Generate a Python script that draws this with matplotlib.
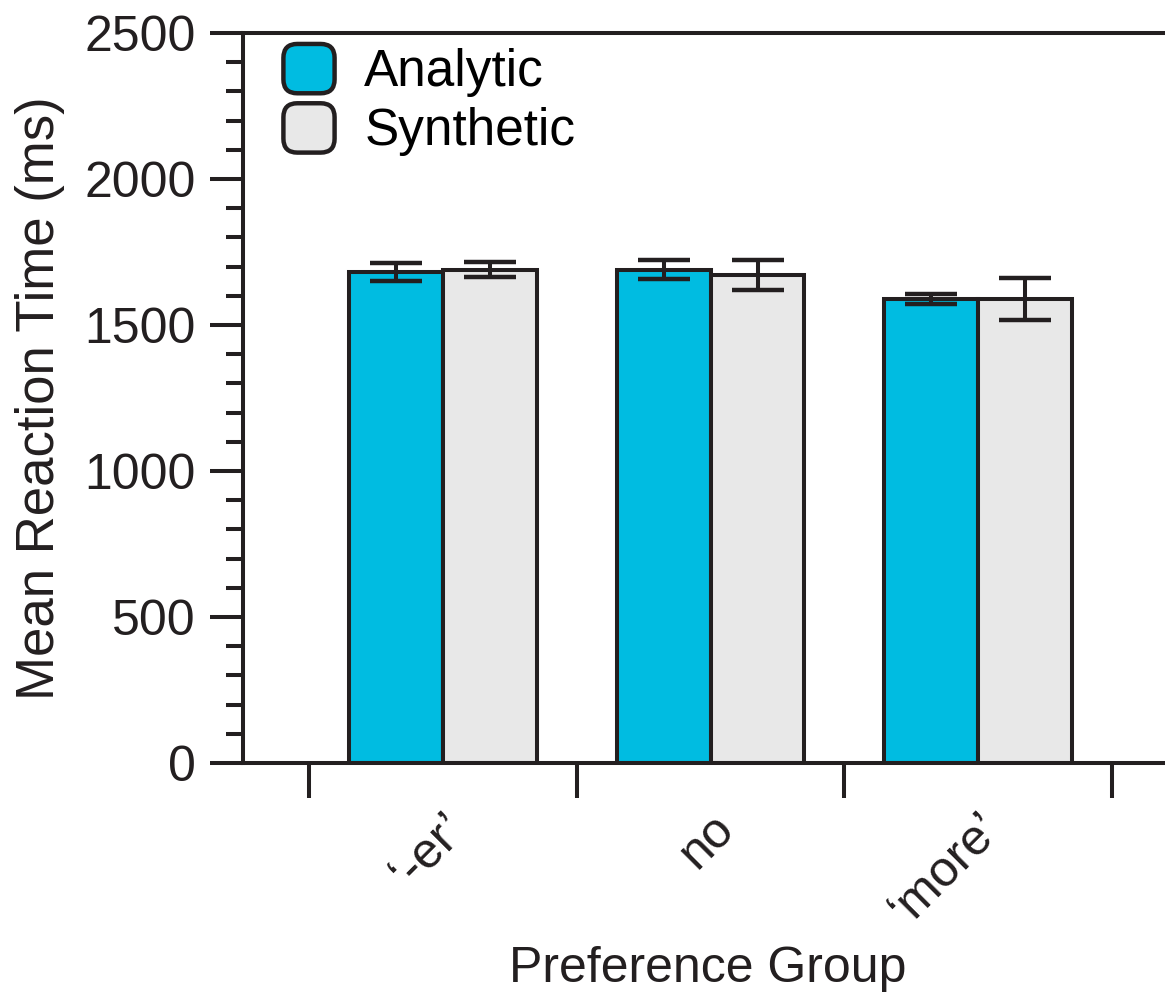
import matplotlib.pyplot as plt
from matplotlib.legend_handler import HandlerPatch
from matplotlib.patches import FancyBboxPatch
from matplotlib.ticker import MultipleLocator, FixedLocator
import numpy as np

plt.rcParams['font.family'] = ['Liberation Sans', 'DejaVu Sans']

groups = ["\u2018-er\u2019", "no", "\u2018more\u2019"]
analytic = [1680, 1690, 1589]
analytic_err = [31, 34, 16]
synthetic = [1690, 1672, 1589]
synthetic_err = [27, 51, 72]

dark = "#231F20"
cyan = "#00BCE1"
grey = "#E8E8E8"


class RoundHandler(HandlerPatch):
    def create_artists(self, legend, orig_handle, xdescent, ydescent,
                       width, height, fontsize, trans):
        p = FancyBboxPatch((-xdescent + 1, -ydescent), width - 2, height,
                           boxstyle="round,pad=0,rounding_size=10",
                           facecolor=orig_handle.get_facecolor(),
                           edgecolor=dark, linewidth=3.2, transform=trans)
        return [p]


fig = plt.figure(figsize=(11.65, 9.94), dpi=100)
ax = fig.add_axes([243 / 1165, 1 - 763 / 994, (1172 - 243) / 1165, (763 - 33) / 994])

x = np.arange(len(groups))
w = 0.351
b1 = ax.bar(x - w / 2, analytic, w, color=cyan, edgecolor=dark, linewidth=2.9,
            label="Analytic", zorder=2)
b2 = ax.bar(x + w / 2, synthetic, w, color=grey, edgecolor=dark, linewidth=2.9,
            label="Synthetic", zorder=2)
ax.errorbar(x - w / 2, analytic, yerr=analytic_err, fmt='none', ecolor=dark,
            elinewidth=2.9, capsize=19, capthick=3.2, zorder=3)
ax.errorbar(x + w / 2, synthetic, yerr=synthetic_err, fmt='none', ecolor=dark,
            elinewidth=2.9, capsize=19, capthick=3.2, zorder=3)

ax.set_xlim(-0.748, 2.725)
ax.set_ylim(0, 2500)

for s in ax.spines.values():
    s.set_linewidth(2.9)
    s.set_color(dark)

ax.yaxis.set_major_locator(MultipleLocator(500))
ax.yaxis.set_minor_locator(MultipleLocator(100))
ax.tick_params(axis='y', which='major', length=24, width=2.9, color=dark,
               labelsize=36, pad=10, labelcolor=dark)
ax.tick_params(axis='y', which='minor', length=12, width=2.9, color=dark)

ax.xaxis.set_major_locator(FixedLocator([-0.5, 0.5, 1.5, 2.5]))
ax.xaxis.set_minor_locator(FixedLocator(x))
ax.set_xticklabels([], minor=False)
ax.set_xticklabels(groups, minor=True, rotation=45, ha='right', va='top',
                   rotation_mode='anchor')
ax.tick_params(axis='x', which='major', length=25, width=2.9, color=dark)
ax.tick_params(axis='x', which='minor', length=0, labelsize=36, pad=30,
               labelcolor=dark)

ax.set_ylabel("Mean Reaction Time (ms)", fontsize=38, labelpad=14, color=dark)
ax.set_xlabel("Preference Group", fontsize=36, labelpad=9, color=dark)

h1, h2 = b1.patches[0], b2.patches[0]
ax.legend(handles=[h1, h2], labels=["Analytic", "Synthetic"], loc='upper left',
          bbox_to_anchor=(0.042, 0.985), frameon=False, fontsize=37,
          handlelength=1.05, handleheight=1.1, handletextpad=0.55,
          labelspacing=0.12, borderpad=0, borderaxespad=0,
          handler_map={h1: RoundHandler(), h2: RoundHandler()})

fig.savefig("out.png", dpi=100)
